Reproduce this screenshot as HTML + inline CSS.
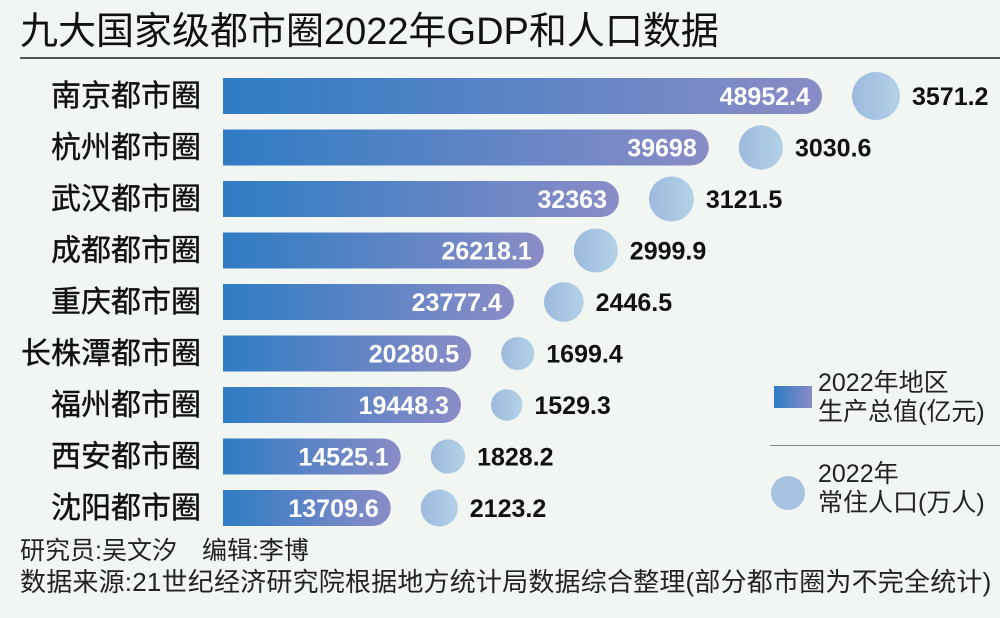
<!DOCTYPE html>
<html><head><meta charset="utf-8"><style>
body{margin:0;width:1000px;height:618px;background:#f2f6f3;overflow:hidden;font-family:"Liberation Sans","Noto Sans CJK SC",sans-serif;position:relative}
.t{position:absolute;white-space:nowrap}
</style></head><body>
<div class="t" style="left:20px;top:8px;font-size:38px;line-height:48px;color:#111">九大国家级都市圈2022年GDP和人口数据</div>
<div style="position:absolute;left:20px;top:57px;width:980px;height:2px;background:#555"></div>
<svg id="chart" width="1000" height="618" style="position:absolute;left:0;top:0">
<defs>
<linearGradient id="g" x1="0" x2="1"><stop offset="0" stop-color="#2f7cc4"/><stop offset="1" stop-color="#8a8cc6"/></linearGradient>
<linearGradient id="c" x1="0" x2="1"><stop offset="0" stop-color="#9dbade"/><stop offset="1" stop-color="#b3d1e6"/></linearGradient>
</defs>
</svg>
<svg width="40" height="30" style="position:absolute;left:774px;top:383px"><rect x="0" y="3" width="38" height="22" rx="0" fill="url(#g)"/></svg>
<div class="t" style="left:818px;top:369px;font-size:25px;line-height:29px;color:#222">2022年地区<br>生产总值(亿元)</div>
<div style="position:absolute;left:770px;top:445px;width:230px;height:1px;background:#888"></div>
<div style="position:absolute;left:771px;top:476px;width:34px;height:34px;border-radius:50%;background:#a8c3e1"></div>
<div class="t" style="left:818px;top:460px;font-size:25px;line-height:29px;color:#222">2022年<br>常住人口(万人)</div>
<div class="t" style="left:20px;top:536px;font-size:25px;line-height:30px;color:#222">研究员:吴文汐　编辑:李博</div>
<div class="t" style="left:20px;top:567px;font-size:26px;line-height:30px;color:#222;letter-spacing:0.2px">数据来源:21世纪经济研究院根据地方统计局数据综合整理(部分都市圈为不完全统计)</div>
<script>
const categories=["南京都市圈","杭州都市圈","武汉都市圈","成都都市圈","重庆都市圈","长株潭都市圈","福州都市圈","西安都市圈","沈阳都市圈"];
const gdpValues=[48952.4,39698,32363,26218.1,23777.4,20280.5,19448.3,14525.1,13709.6];
const gdpLabels=["48952.4","39698","32363","26218.1","23777.4","20280.5","19448.3","14525.1","13709.6"];
const popValues=[3571.2,3030.6,3121.5,2999.9,2446.5,1699.4,1529.3,1828.2,2123.2];
const popLabels=["3571.2","3030.6","3121.5","2999.9","2446.5","1699.4","1529.3","1828.2","2123.2"];
const svg=document.getElementById('chart');const NS='http://www.w3.org/2000/svg';
const x0=223,xScale=v=>v*(599/48952.4);
const yRow=i=>96+i*51.5;
const maxPop=Math.max(...popValues);
const rScale=v=>24*Math.sqrt(v/maxPop);
function mk(t,a){const e=document.createElementNS(NS,t);for(const k in a)e.setAttribute(k,a[k]);svg.appendChild(e);return e;}
categories.forEach((c,i)=>{
 const y=yRow(i),w=xScale(gdpValues[i]),h=36;
 const lab=mk('text',{x:201,y:y+10,'text-anchor':'end','font-size':30,fill:'#111',stroke:'#111','stroke-width':0.4});lab.textContent=c;
 
 
 const p=mk('path',{d:`M${x0},${y-h/2}H${x0+w-h/2}A${h/2},${h/2} 0 0 1 ${x0+w-h/2},${y+h/2}H${x0}Z`,fill:'url(#g)'});
 
 
 const vt=mk('text',{x:x0+w-12,y:y+9,'text-anchor':'end','font-size':25,'font-weight':'bold',fill:'#fff'});vt.textContent=gdpLabels[i];
 
 
 const r=rScale(popValues[i]),cx=x0+w+30+r;
 const ci=mk('circle',{cx:cx,cy:y,r:r,fill:'url(#c)'});
 
 
 const pt=mk('text',{x:cx+r+12,y:y+9,'font-size':25,'font-weight':'bold',fill:'#111'});pt.textContent=popLabels[i];
 
 
});
</script>
</body></html>
